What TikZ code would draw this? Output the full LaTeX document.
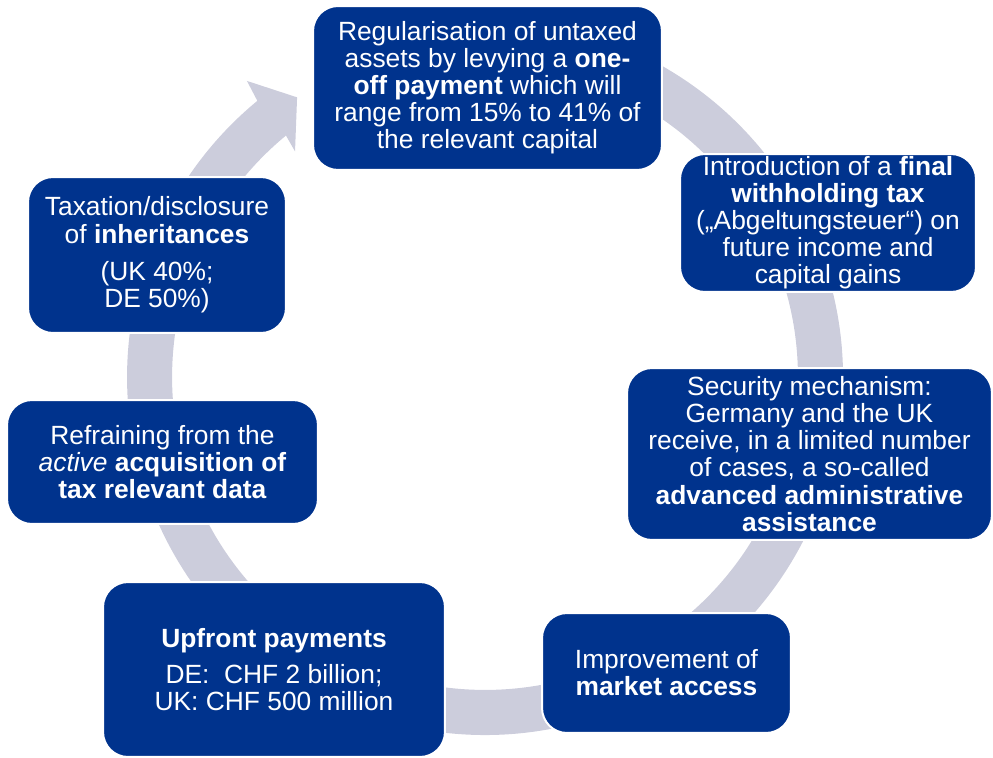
\documentclass[tikz,border=0pt]{standalone}
\usepackage{fontspec}
\setmainfont{Liberation Sans}
\usepackage{xcolor}
\definecolor{ColBlue}{RGB}{0,51,141}
\definecolor{ColRing}{RGB}{204,205,220}
\usepackage{tikz}
\tikzstyle{Box}=[rectangle,rounded corners=0.5cm,fill=ColBlue,draw=white,
line width=0.04cm,text=white,align=center,inner sep=0pt,
font=\fontsize{15}{15.4}\selectfont]
\tikzstyle{Ring}=[fill=ColRing]

\begin{document}
\begin{tikzpicture}[x=0.02cm,y=-0.02cm]
        \useasboundingbox(0,0)rectangle(993,757);
        \coordinate(c)at(485,377);
        \fill[Ring]([shift={(112:7.16cm)}]c)
            arc[start angle=112,end angle=-230.5,radius=7.16cm]
            --([shift={(128.8:7.6cm)}]c)--([shift={(123.9:6.74cm)}]c)
            --([shift={(130.1:5.9cm)}]c)--([shift={(-230.5:6.26cm)}]c)
            arc[start angle=-230.5,end angle=112,radius=6.26cm]--cycle;
        \node[Box,minimum width=6.98cm,minimum height=3.28cm](regul)
            at(487.5,88){Regularisation of untaxed\\assets by levying a
            \textbf{one-}\\\textbf{off payment} which will\\range from
            15\% to 41\% of\\the relevant capital};
        \node[Box,minimum width=5.92cm,minimum height=2.76cm](final)
            at(828,223){Introduction of a \textbf{final}\\
            \textbf{withholding tax}\\(„Abgeltungsteuer“) on\\future
            income and\\capital gains};
        \node[Box,minimum width=7.3cm,minimum height=3.44cm](security)
            at(809.5,454){Security mechanism:\\Germany and the UK\\receive,
            in a limited number\\of cases, a so-called\\
            \textbf{advanced administrative}\\\textbf{assistance}};
        \node[Box,minimum width=4.98cm,minimum height=2.4cm](market)
            at(666.5,673){Improvement of\\\textbf{market access}};
        \node[Box,minimum width=6.84cm,minimum height=3.5cm](upfront)
            at(274,669.5){\textbf{Upfront payments}\\[5pt]DE:~~CHF 2
            billion;\\UK: CHF 500 million};
        \node[Box,minimum width=6.22cm,minimum height=2.48cm](refrain)
            at(162.5,462){Refraining from the\\\textit{active}
            \textbf{acquisition of}\\\textbf{tax relevant data}};
        \node[Box,minimum width=5.16cm,minimum height=3.12cm](inherit)
            at(157,255){Taxation/disclosure\\of \textbf{inheritances}\\[6pt]
            (UK 40\%;\\DE 50\%)};
    \end{tikzpicture}
\end{document}
